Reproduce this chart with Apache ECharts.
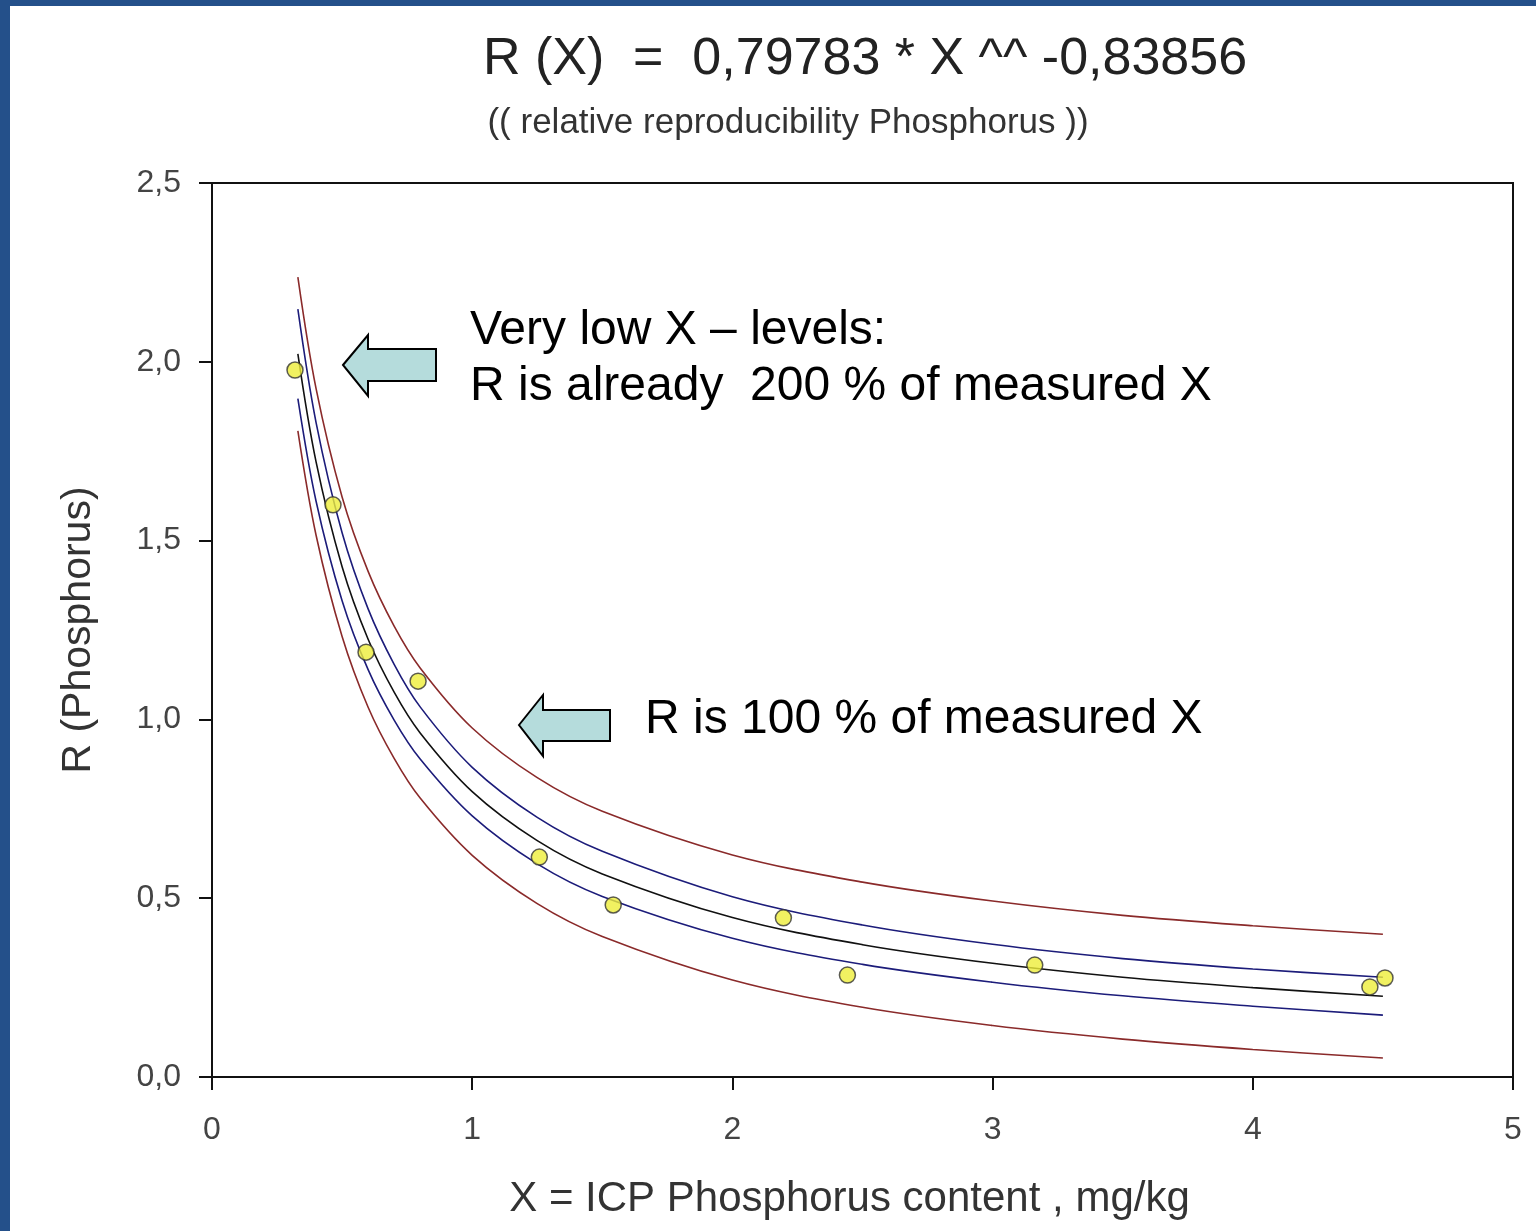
<!DOCTYPE html>
<html>
<head>
<meta charset="utf-8">
<script src="https://cdn.jsdelivr.net/npm/echarts@6/dist/echarts.min.js"></script>
<style>
html,body{margin:0;padding:0;background:#fff;}
#chart{width:1536px;height:1231px;}
</style>
</head>
<body>
<div id="chart"></div>
<script>
// ---- data ----
const curveX     = [0.33, 0.4, 0.5, 0.6, 0.7, 0.8, 1.0, 1.25, 1.5, 2.0, 2.5, 3.0, 3.5, 4.0, 4.5];
const upperRed   = [2.237, 1.925, 1.622, 1.414, 1.261, 1.144, 0.976, 0.837, 0.743, 0.621, 0.545, 0.492, 0.452, 0.423, 0.399];
const upperBlue  = [2.147, 1.830, 1.522, 1.309, 1.154, 1.035, 0.866, 0.726, 0.631, 0.504, 0.425, 0.371, 0.331, 0.302, 0.279];
const fitCurve   = [2.022, 1.720, 1.427, 1.224, 1.076, 0.962, 0.798, 0.661, 0.568, 0.446, 0.370, 0.318, 0.279, 0.250, 0.226];
const lowerBlue  = [1.897, 1.610, 1.332, 1.139, 0.998, 0.889, 0.730, 0.596, 0.505, 0.388, 0.315, 0.265, 0.227, 0.198, 0.173];
const lowerRed   = [1.807, 1.515, 1.232, 1.034, 0.891, 0.780, 0.620, 0.485, 0.393, 0.271, 0.195, 0.144, 0.106, 0.077, 0.053];

const pointX = [0.319, 0.465, 0.592, 0.792, 1.258, 1.542, 2.196, 2.442, 3.162, 4.450, 4.508];
const pointY = [1.977, 1.600, 1.188, 1.107, 0.615, 0.481, 0.445, 0.285, 0.313, 0.252, 0.277];

const xTicks = [0, 1, 2, 3, 4, 5];
const yTicks = [0, 0.5, 1.0, 1.5, 2.0, 2.5];

const titleText = 'R (X)  =  0,79783 * X ^^ -0,83856';
const subtitleText = '(( relative reproducibility Phosphorus ))';
const xName = 'X = ICP Phosphorus content , mg/kg';
const yName = 'R (Phosphorus)';
const note1a = 'Very low X \u2013 levels:';
const note1b = 'R is already  200 % of measured X';
const note2 = 'R is 100 % of measured X';

// ---- build ----
const pair = (xs, ys) => xs.map((x, i) => [x, ys[i]]);
const FONT = '"Liberation Sans", Arial, sans-serif';

function curve(name, ys, color) {
  return {
    name, type: 'line', data: pair(curveX, ys), smooth: 0.35,
    showSymbol: false, silent: true,
    lineStyle: { color, width: 1.6 }, z: 3
  };
}

const chart = echarts.init(document.getElementById('chart'), null, { renderer: 'canvas' });
chart.setOption({
  backgroundColor: '#ffffff',
  animation: false,
  grid: {
    left: 212, right: 23, top: 183, bottom: 154,
    show: true, borderColor: '#111', borderWidth: 2, backgroundColor: 'transparent'
  },
  xAxis: {
    type: 'value', min: xTicks[0], max: xTicks[xTicks.length - 1], interval: 1,
    name: xName, nameLocation: 'middle', nameGap: 101,
    nameTextStyle: { fontFamily: FONT, fontSize: 42, color: '#333', padding: [0, 26, 0, 0] },
    axisLine: { show: true, onZero: false, lineStyle: { color: '#111', width: 2 } },
    axisTick: { show: true, length: 13, lineStyle: { color: '#111', width: 2 } },
    axisLabel: { fontFamily: FONT, fontSize: 32, color: '#444', margin: 37 },
    splitLine: { show: false }
  },
  yAxis: {
    type: 'value', min: yTicks[0], max: yTicks[yTicks.length - 1], interval: 0.5,
    name: yName, nameLocation: 'middle', nameGap: 113, nameRotate: 90,
    nameTextStyle: { fontFamily: FONT, fontSize: 41, color: '#333' },
    axisLine: { show: true, onZero: false, lineStyle: { color: '#111', width: 2 } },
    axisTick: { show: true, length: 13, lineStyle: { color: '#111', width: 2 } },
    axisLabel: {
      fontFamily: FONT, fontSize: 32, color: '#444', margin: 31,
      formatter: v => v.toFixed(1).replace('.', ',')
    },
    splitLine: { show: false }
  },
  series: [
    curve('upper prediction', upperRed, '#8a2a2a'),
    curve('upper confidence', upperBlue, '#1c1c7a'),
    curve('fit', fitCurve, '#111111'),
    curve('lower confidence', lowerBlue, '#1c1c7a'),
    curve('lower prediction', lowerRed, '#8a2a2a'),
    {
      name: 'data', type: 'scatter', data: pair(pointX, pointY),
      symbol: 'circle', symbolSize: 16, z: 5,
      itemStyle: { color: '#eeee3a', borderColor: '#333', borderWidth: 1.5 }
    }
  ],
  graphic: [
    { type: 'rect', shape: { x: 0, y: 0, width: 10, height: 1231 }, style: { fill: '#24508a' }, z: 100 },
    { type: 'rect', shape: { x: 0, y: 0, width: 1536, height: 6 }, style: { fill: '#24508a' }, z: 100 },
    { type: 'text', x: 865, y: 60, z: 100, style: { text: titleText, font: '52px ' + FONT, fill: '#222', align: 'center', verticalAlign: 'middle' } },
    { type: 'text', x: 788, y: 123, z: 100, style: { text: subtitleText, font: '35px ' + FONT, fill: '#333', align: 'center', verticalAlign: 'middle' } },
    { type: 'text', x: 470, y: 331, z: 100, style: { text: note1a, font: '48px ' + FONT, fill: '#000', align: 'left', verticalAlign: 'middle' } },
    { type: 'text', x: 470, y: 387, z: 100, style: { text: note1b, font: '48px ' + FONT, fill: '#000', align: 'left', verticalAlign: 'middle' } },
    { type: 'text', x: 645, y: 720, z: 100, style: { text: note2, font: '48px ' + FONT, fill: '#000', align: 'left', verticalAlign: 'middle' } },
    { type: 'polygon', z: 100, shape: { points: [[343,365],[368,335],[368,349],[436,349],[436,381],[368,381],[368,396]] },
      style: { fill: '#b5dcdc', stroke: '#000', lineWidth: 2 } },
    { type: 'polygon', z: 100, shape: { points: [[519,725],[543,695],[543,710],[610,710],[610,741],[543,741],[543,756]] },
      style: { fill: '#b5dcdc', stroke: '#000', lineWidth: 2 } }
  ]
});
</script>
</body>
</html>
